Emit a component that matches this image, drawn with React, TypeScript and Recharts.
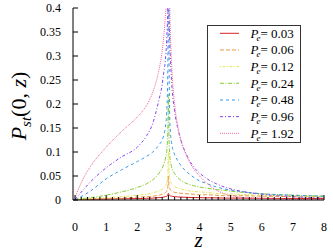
import React from 'react';
import { LineChart, Line, XAxis, YAxis, Legend } from 'recharts';

// z grid shared by all curves (denser near the cusp at z = 3)
const zValues = [0, 0.25, 0.5, 1, 1.5, 2, 2.3, 2.5, 2.7, 2.8, 2.85, 2.9, 2.95, 2.98, 3, 3.02, 3.05, 3.1, 3.2, 3.3, 3.4, 3.6, 3.8, 4, 4.2, 4.5, 4.8, 5.2, 6, 7, 8];

const pe003 = [0.001, 0.001, 0.0015, 0.002, 0.0025, 0.003, 0.0035, 0.004, 0.005, 0.0055, 0.006, 0.007, 0.008, 0.01, 0.014, 0.011, 0.009, 0.008, 0.007, 0.0065, 0.006, 0.0055, 0.005, 0.005, 0.0045, 0.0045, 0.004, 0.004, 0.0035, 0.003, 0.003];
const pe006 = [0.001, 0.0015, 0.002, 0.003, 0.004, 0.006, 0.007, 0.008, 0.01, 0.012, 0.013, 0.015, 0.019, 0.026, 0.05, 0.03, 0.023, 0.019, 0.016, 0.015, 0.014, 0.013, 0.012, 0.011, 0.011, 0.01, 0.009, 0.009, 0.008, 0.007, 0.006];
const pe012 = [0.001, 0.002, 0.003, 0.005, 0.007, 0.01, 0.012, 0.015, 0.019, 0.022, 0.025, 0.029, 0.037, 0.05, 0.1, 0.06, 0.042, 0.034, 0.028, 0.025, 0.023, 0.02, 0.018, 0.017, 0.016, 0.014, 0.013, 0.012, 0.01, 0.008, 0.007];
const pe024 = [0.001, 0.003, 0.005, 0.01, 0.017, 0.026, 0.034, 0.042, 0.056, 0.066, 0.074, 0.085, 0.105, 0.14, 0.22, 0.13, 0.09, 0.07, 0.055, 0.047, 0.041, 0.034, 0.03, 0.027, 0.025, 0.022, 0.02, 0.017, 0.013, 0.01, 0.008];
const pe048 = [0.001, 0.009, 0.019, 0.044, 0.063, 0.08, 0.091, 0.1, 0.115, 0.125, 0.135, 0.15, 0.19, 0.26, 0.55, 0.3, 0.16, 0.12, 0.095, 0.082, 0.072, 0.058, 0.048, 0.04, 0.035, 0.028, 0.023, 0.019, 0.013, 0.01, 0.008];
const pe096 = [0.002, 0.02, 0.038, 0.067, 0.09, 0.11, 0.134, 0.16, 0.21, 0.24, 0.265, 0.29, 0.34, 0.4, 0.7, 0.4, 0.32, 0.25, 0.185, 0.15, 0.125, 0.092, 0.07, 0.056, 0.046, 0.035, 0.027, 0.02, 0.012, 0.007, 0.004];
const pe192 = [0.005, 0.043, 0.07, 0.11, 0.143, 0.173, 0.197, 0.225, 0.272, 0.31, 0.34, 0.38, 0.43, 0.5, 0.6, 0.5, 0.38, 0.29, 0.2, 0.155, 0.125, 0.09, 0.066, 0.05, 0.037, 0.022, 0.013, 0.007, 0.003, 0.0015, 0.001];

const seriesLabels = ['0.03', '0.06', '0.12', '0.24', '0.48', '0.96', '1.92'];
const seriesValues = [pe003, pe006, pe012, pe024, pe048, pe096, pe192];
const seriesColors = ['#dd2222', '#ee9944', '#e4e45a', '#88cc33', '#3399ee', '#8844ee', '#ee6699'];
const seriesDashes = [undefined, '4 2', '1 1.5 3 1.5', '4 1.5 1 1.5', '3 3', '3 2 1 2', '1 1'];

const xMajorTicks = [0, 1, 2, 3, 4, 5, 6, 7, 8];
const xTicks = xMajorTicks.flatMap((t) => (t < 8 ? [t, t + 0.2, t + 0.4, t + 0.6, t + 0.8] : [t]));
const yTicks = [0, 0.05, 0.1, 0.15, 0.2, 0.25, 0.3, 0.35, 0.4];

const chartData = zValues.map((z, i) => {
  const row: Record<string, number> = { z };
  seriesLabels.forEach((lab, k) => {
    row['pe' + lab] = seriesValues[k][i];
  });
  return row;
});

const serif = { fontFamily: '"Liberation Serif", "Times New Roman", serif' };

const isMajor = (v: number) => Math.abs(v - Math.round(v)) < 1e-6;

const BottomTick = (props: any) => {
  const { x, y, payload } = props;
  const major = isMajor(payload.value);
  return (
    <g>
      <line x1={x} x2={x} y1={y} y2={y - (major ? 5 : 3)} stroke="#000" />
      {major && (
        <text x={x} y={y + 31} textAnchor="middle" fontSize={12} style={serif} fill="#000">
          {Math.round(payload.value)}
        </text>
      )}
    </g>
  );
};

const TopTick = (props: any) => {
  const { x, y, payload } = props;
  const major = isMajor(payload.value);
  return <line x1={x} x2={x} y1={y} y2={y + (major ? 5 : 3)} stroke="#000" />;
};

const LeftTick = (props: any) => {
  const { x, y, payload } = props;
  return (
    <g>
      <line x1={x} x2={x + 5} y1={y} y2={y} stroke="#000" />
      <text x={x - 12} y={y + 4} textAnchor="end" fontSize={12} style={serif} fill="#000">
        {payload.value}
      </text>
    </g>
  );
};

const RightTick = (props: any) => {
  const { x, y } = props;
  return <line x1={x} x2={x - 5} y1={y} y2={y} stroke="#000" />;
};

const YLabel = (props: any) => {
  const vb = props.viewBox;
  const cx = 26;
  const cy = vb.y + vb.height / 2 + 2;
  return (
    <text x={cx} y={cy} transform={`rotate(-90 ${cx} ${cy})`} textAnchor="middle" fontSize={22} style={serif} fill="#000">
      <tspan fontStyle="italic">P</tspan>
      <tspan fontStyle="italic" fontSize={15} dy={5}>st</tspan>
      <tspan dy={-5}>(0, </tspan>
      <tspan fontStyle="italic">z</tspan>
      <tspan>)</tspan>
    </text>
  );
};

const XLabel = (props: any) => {
  const vb = props.viewBox;
  return (
    <text x={vb.x + vb.width / 2} y={vb.y + vb.height - 4} textAnchor="middle" fontSize={21} fontStyle="italic" style={serif} fill="#000">
      z
    </text>
  );
};

const LegendBox = () => (
  <svg width={94} height={118} style={{ display: 'block' }}>
    <rect x={0.5} y={0.5} width={93} height={117} fill="#fff" stroke="#333" />
    {seriesLabels.map((lab, i) => {
      const cy = 8.3 + i * 16.67;
      return (
        <g key={lab}>
          <line x1={13} x2={32} y1={cy} y2={cy} stroke={seriesColors[i]} strokeDasharray={seriesDashes[i]} />
          <text x={43.5} y={cy + 4.5} fontSize={13} style={serif} fill="#000">
            <tspan fontStyle="italic">P</tspan>
            <tspan fontStyle="italic" fontSize={9} dx={-2} dy={3}>e</tspan>
            <tspan dy={-3}>= {lab}</tspan>
          </text>
        </g>
      );
    })}
  </svg>
);

const App = () => (
  <div style={{ position: 'absolute', left: 0, top: 0, background: '#fff' }}>
    <LineChart width={333} height={251} data={chartData} margin={{ top: 8, right: 9, left: 0, bottom: 0 }}>
      <XAxis
        dataKey="z"
        type="number"
        domain={[-0.065, 8]}
        allowDataOverflow
        ticks={xTicks}
        interval={0}
        tickSize={0}
        tickMargin={0}
        tickLine={false}
        tick={<BottomTick />}
        axisLine={{ stroke: '#000' }}
        height={51}
        label={{ content: <XLabel /> }}
      />
      <XAxis
        xAxisId="top"
        orientation="top"
        dataKey="z"
        type="number"
        domain={[-0.065, 8]}
        allowDataOverflow
        ticks={xTicks}
        interval={0}
        tickSize={0}
        tickMargin={0}
        tickLine={false}
        tick={<TopTick />}
        axisLine={{ stroke: '#000' }}
        height={0}
      />
      <YAxis
        type="number"
        domain={[0, 0.4]}
        allowDataOverflow
        ticks={yTicks}
        interval={0}
        tickSize={0}
        tickMargin={0}
        tickLine={false}
        tick={<LeftTick />}
        axisLine={{ stroke: '#000' }}
        width={73}
        label={{ content: <YLabel /> }}
      />
      <YAxis
        yAxisId="right"
        orientation="right"
        type="number"
        domain={[0, 0.4]}
        allowDataOverflow
        ticks={yTicks}
        interval={0}
        tickSize={0}
        tickMargin={0}
        tickLine={false}
        tick={<RightTick />}
        axisLine={{ stroke: '#000' }}
        width={0}
      />
      <Legend
        layout="vertical"
        align="center"
        verticalAlign="middle"
        content={() => <LegendBox />}
        wrapperStyle={{ position: 'absolute', left: 207, top: 25, width: 94, height: 118 }}
      />
      {seriesLabels.map((lab, i) => (
        <Line
          key={lab}
          type="monotone"
          dataKey={'pe' + lab}
          stroke={seriesColors[i]}
          strokeWidth={1}
          strokeDasharray={seriesDashes[i]}
          dot={false}
          activeDot={false}
          isAnimationActive={false}
        />
      ))}
    </LineChart>
  </div>
);

export default App;
